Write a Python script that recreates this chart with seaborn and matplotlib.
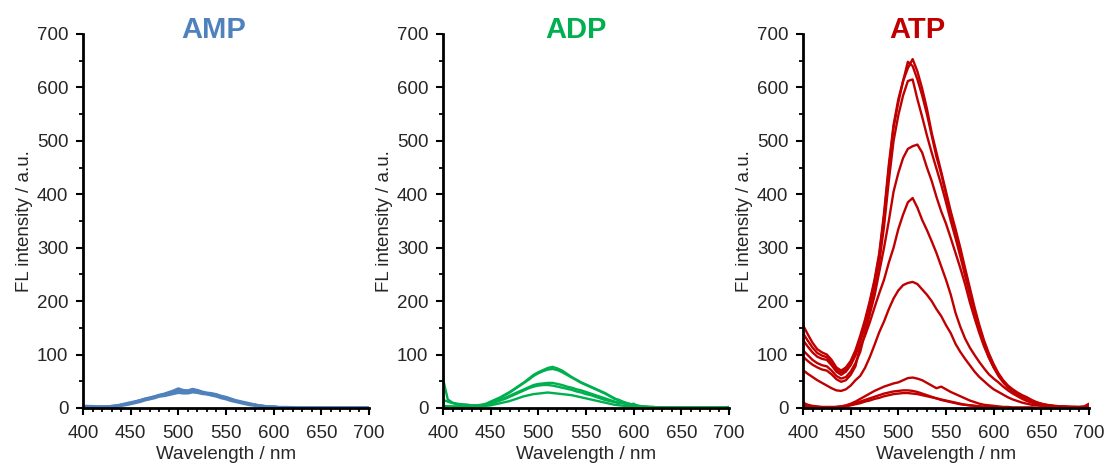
import matplotlib
matplotlib.use("Agg")
import matplotlib.pyplot as plt
from matplotlib.ticker import MultipleLocator
import pandas as pd
import seaborn as sns

# Emission wavelength grid (nm)
wavelength = list(range(400, 701, 5))

# AMP spectra
amp_1 = [3, 3, 3, 2, 2, 2, 3, 4, 6, 8,
         10, 12, 14, 17, 19, 21, 24, 26, 29, 32,
         36, 33, 32, 35, 33, 30, 28, 27, 25, 22,
         20, 17, 14, 12, 10, 8, 6, 4, 3, 2,
         2, 1, 1, 1, 1, 0, 0, 0, 0, 0,
         0, 0, 0, 0, 0, 0, 0, 0, 0, 0, 0]
amp_2 = [3, 3, 2, 2, 2, 2, 3, 4, 5, 7,
         9, 11, 14, 16, 18, 21, 23, 25, 27, 29,
         31, 30, 32, 34, 31, 29, 27, 25, 24, 21,
         19, 16, 13, 11, 9, 7, 6, 4, 3, 2,
         2, 1, 1, 1, 0, 0, 0, 0, 0, 0,
         0, 0, 0, 0, 0, 0, 0, 0, 0, 0, 0]
amp_3 = [2, 2, 2, 2, 2, 2, 3, 3, 5, 6,
         8, 10, 12, 15, 17, 19, 22, 23, 25, 27,
         29, 28, 28, 30, 29, 27, 26, 24, 22, 19,
         17, 14, 12, 10, 8, 6, 5, 4, 3, 2,
         2, 1, 1, 1, 0, 0, 0, 0, 0, 0,
         0, 0, 0, 0, 0, 0, 0, 0, 0, 0, 0]

# ADP spectra
adp_1 = [15, 12, 9, 7, 6, 6, 5, 5, 6, 8,
         12, 16, 20, 25, 30, 36, 42, 48, 55, 62,
         67, 71, 75, 77, 74, 70, 64, 58, 53, 48,
         44, 40, 36, 32, 28, 23, 18, 14, 11, 8,
         6, 4, 3, 2, 2, 1, 1, 1, 1, 1,
         1, 1, 1, 1, 1, 1, 1, 1, 1, 1, 2]
adp_2 = [55, 16, 10, 8, 7, 6, 5, 4, 5, 7,
         11, 15, 19, 24, 29, 35, 41, 47, 53, 60,
         65, 69, 72, 73, 71, 67, 62, 57, 52, 47,
         43, 39, 35, 31, 27, 22, 17, 15, 10, 8,
         6, 4, 3, 2, 2, 1, 1, 1, 1, 1,
         1, 1, 1, 1, 1, 1, 1, 1, 1, 1, 1]
adp_3 = [4, 3, 3, 3, 3, 4, 4, 4, 5, 7,
         10, 13, 16, 19, 23, 27, 31, 35, 39, 43,
         45, 46, 47, 47, 45, 43, 40, 38, 35, 33,
         30, 27, 24, 21, 18, 15, 12, 10, 8, 6,
         4, 3, 2, 2, 1, 1, 1, 0, 0, 0,
         0, 0, 0, 0, 0, 0, 0, 0, 0, 0, 1]
adp_4 = [3, 3, 2, 2, 2, 3, 3, 4, 4, 6,
         8, 11, 14, 17, 21, 25, 29, 33, 37, 40,
         42, 43, 43, 42, 40, 38, 36, 34, 31, 29,
         26, 24, 21, 18, 15, 13, 11, 9, 11, 6,
         8, 3, 2, 2, 1, 1, 1, 0, 0, 0,
         0, 0, 0, 0, 0, 0, 0, 0, 0, 0, 0]
adp_5 = [2, 2, 2, 2, 2, 2, 2, 3, 3, 4,
         5, 7, 9, 11, 13, 16, 19, 22, 24, 26,
         27, 28, 29, 28, 27, 26, 25, 24, 22, 20,
         18, 16, 14, 12, 10, 8, 6, 5, 4, 3,
         2, 2, 1, 1, 1, 0, 0, 0, 0, 0,
         0, 0, 0, 0, 0, 0, 0, 0, 0, 0, 0]

# ATP spectra
atp_1 = [155, 138, 122, 110, 104, 100, 90, 76, 70, 76,
         88, 108, 135, 165, 200, 240, 290, 365, 455, 530,
         578, 612, 636, 653, 630, 598, 560, 515, 478, 442,
         405, 368, 335, 300, 262, 225, 188, 155, 126, 102,
         82, 65, 52, 42, 35, 29, 24, 20, 15, 11,
         8, 6, 5, 4, 3, 3, 2, 2, 2, 3, 8]
atp_2 = [140, 126, 113, 103, 98, 95, 84, 72, 66, 72,
         84, 103, 130, 160, 196, 236, 285, 358, 448, 525,
         572, 612, 648, 640, 615, 585, 550, 510, 470, 438,
         400, 362, 328, 292, 255, 218, 182, 150, 122, 98,
         78, 62, 50, 40, 33, 27, 22, 18, 13, 10,
         7, 5, 4, 3, 3, 2, 2, 2, 2, 2, 5]
atp_3 = [127, 115, 104, 96, 92, 90, 80, 68, 62, 68,
         80, 98, 124, 152, 186, 225, 272, 340, 425, 500,
         548, 585, 612, 615, 578, 545, 510, 478, 448, 418,
         385, 350, 318, 284, 248, 212, 178, 146, 118, 95,
         76, 60, 48, 38, 31, 25, 20, 16, 12, 9,
         6, 5, 4, 3, 2, 2, 2, 1, 1, 1, 3]
atp_4 = [108, 99, 90, 84, 80, 78, 70, 60, 55, 58,
         68, 84, 105, 140, 175, 210, 255, 300, 350, 405,
         440, 468, 485, 490, 493, 478, 450, 425, 395, 368,
         345, 318, 290, 262, 232, 198, 168, 140, 115, 94,
         76, 62, 50, 40, 32, 26, 21, 17, 13, 10,
         8, 6, 4, 3, 3, 2, 2, 2, 1, 1, 3]
atp_5 = [96, 88, 81, 76, 72, 70, 63, 54, 49, 52,
         62, 78, 115, 135, 160, 188, 215, 240, 272, 300,
         335, 362, 385, 393, 375, 352, 333, 312, 290, 265,
         240, 212, 178, 152, 130, 113, 99, 86, 74, 63,
         55, 48, 40, 33, 27, 22, 17, 13, 10, 8,
         6, 4, 3, 2, 2, 2, 1, 1, 1, 1, 2]
atp_6 = [71, 64, 58, 52, 47, 42, 37, 33, 32, 35,
         42, 52, 60, 75, 95, 118, 142, 162, 185, 205,
         220, 230, 234, 236, 232, 222, 212, 200, 185, 172,
         155, 140, 120, 105, 92, 80, 68, 58, 50, 42,
         35, 30, 25, 20, 16, 13, 10, 8, 6, 5,
         4, 3, 2, 2, 1, 1, 1, 1, 1, 1, 1]
atp_7 = [10, 6, 4, 3, 2, 2, 2, 2, 3, 5,
         8, 12, 17, 22, 27, 32, 36, 40, 43, 46,
         48, 52, 56, 57, 55, 52, 47, 42, 37, 40,
         35, 30, 26, 22, 18, 14, 11, 8, 6, 5,
         4, 3, 2, 2, 1, 1, 1, 1, 1, 0,
         0, 0, 0, 0, 0, 0, 0, 0, 0, 0, 0]
atp_8 = [5, 3, 2, 2, 1, 1, 1, 2, 3, 4,
         6, 9, 12, 15, 18, 21, 24, 27, 29, 31,
         32, 33, 33, 32, 30, 27, 24, 21, 18, 16,
         14, 12, 10, 8, 6, 5, 4, 3, 2, 2,
         1, 1, 1, 1, 0, 0, 0, 0, 0, 0,
         0, 0, 0, 0, 0, 0, 0, 0, 0, 0, 0]
atp_9 = [2, 1, 0, 0, 0, 0, 1, 1, 2, 3,
         5, 7, 9, 12, 14, 17, 19, 22, 24, 26,
         27, 28, 28, 27, 26, 24, 22, 20, 18, 15,
         13, 11, 9, 7, 6, 5, 4, 3, 2, 2,
         1, 1, 1, 0, 0, 0, 0, 0, 0, 0,
         0, 0, 0, 0, 0, 0, 0, 0, 0, 0, 0]

titles = ["AMP", "ADP", "ATP"]
colors = ["#4F81BD", "#00B050", "#C00000"]
line_widths = [2.2, 1.7, 1.7]
spectra = [[amp_1, amp_2, amp_3],
           [adp_1, adp_2, adp_3, adp_4, adp_5],
           [atp_1, atp_2, atp_3, atp_4, atp_5, atp_6, atp_7, atp_8, atp_9]]

sns.set_style("ticks")
plt.rcParams["font.family"] = ["Liberation Sans", "DejaVu Sans"]

W, H = 1110, 470
fig = plt.figure(figsize=(W / 100, H / 100), dpi=100)
lefts = [83, 443, 803]
title_x = [0.456, 0.465, 0.40]

for left, name, color, lw, runs, tx in zip(lefts, titles, colors, line_widths,
                                           spectra, title_x):
    ax = fig.add_axes([left / W, 62 / H, 286 / W, 374 / H])
    frames = [pd.DataFrame({"nm": wavelength, "fl": run, "run": i})
              for i, run in enumerate(runs)]
    df = pd.concat(frames, ignore_index=True)
    sns.lineplot(data=df, x="nm", y="fl", units="run", estimator=None,
                 color=color, linewidth=lw, legend=False, ax=ax)
    ax.set_xlim(400, 700)
    ax.set_ylim(0, 700)
    ax.xaxis.set_major_locator(MultipleLocator(50))
    ax.xaxis.set_minor_locator(MultipleLocator(10))
    ax.yaxis.set_major_locator(MultipleLocator(100))
    ax.yaxis.set_minor_locator(MultipleLocator(50))
    sns.despine(ax=ax)
    for side in ("left", "bottom"):
        ax.spines[side].set_linewidth(2.0)
        ax.spines[side].set_color("black")
    ax.tick_params(which="major", direction="out", length=5, width=1.5,
                   labelsize=13.5, color="black")
    ax.tick_params(which="minor", direction="out", length=3, width=1.3,
                   color="black")
    ax.tick_params(axis="x", which="major", pad=7.5)
    ax.tick_params(axis="y", which="major", pad=5.5)
    ax.set_xlabel("Wavelength / nm", fontsize=13.5, labelpad=2.5)
    ax.set_ylabel("FL intensity / a.u.", fontsize=13.5, labelpad=2.5)
    ax.text(tx, 0.989, name, transform=ax.transAxes, color=color,
            fontsize=21, fontweight="bold", ha="center", va="baseline")

fig.savefig("out.png", dpi=100)
